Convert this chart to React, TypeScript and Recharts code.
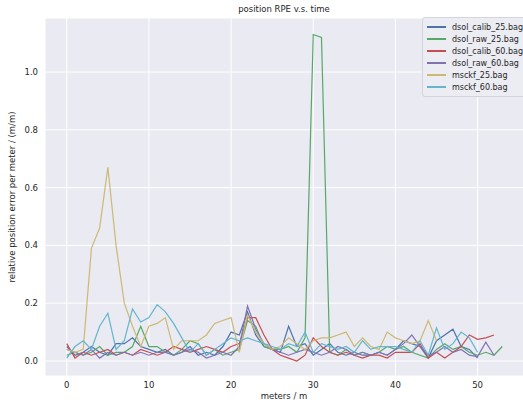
import { LineChart, Line, XAxis, YAxis, CartesianGrid } from 'recharts';

const seriesNames = [
  'dsol_calib_25.bag',
  'dsol_raw_25.bag',
  'dsol_calib_60.bag',
  'dsol_raw_60.bag',
  'msckf_25.bag',
  'msckf_60.bag',
];

const colors = ['#4C72B0', '#55A868', '#C44E52', '#8172B2', '#CCB974', '#64B5CD'];

const dsolCalib25 = [0.05, 0.02, 0.03, 0.05, 0.03, 0.02, 0.06, 0.06, 0.08, 0.05, 0.04, 0.03, 0.04, 0.02, 0.03, 0.05, 0.02, 0.03, 0.02, 0.05, 0.1, 0.09, 0.17, 0.09, 0.05, 0.04, 0.03, 0.12, 0.05, 0.06, 0.02, 0.04, 0.06, 0.03, 0.02, 0.03, 0.02, 0.02, 0.03, 0.02, 0.04, 0.07, 0.06, 0.05, 0.01, 0.07, 0.09, 0.11, 0.05, 0.04, 0.01];
const dsolRaw25 = [0.02, 0.03, 0.02, 0.03, 0.05, 0.02, 0.03, 0.03, 0.05, 0.12, 0.05, 0.05, 0.03, 0.02, 0.04, 0.07, 0.06, 0.02, 0.04, 0.02, 0.03, 0.04, 0.14, 0.12, 0.05, 0.04, 0.04, 0.05, 0.03, 0.08, 1.13, 1.12, 0.03, 0.02, 0.04, 0.02, 0.03, 0.02, 0.03, 0.05, 0.04, 0.05, 0.03, 0.02, 0.01, 0.04, 0.06, 0.04, 0.05, 0.03, 0.02, 0.03, 0.02, 0.05];
const dsolCalib60 = [0.06, 0.01, 0.03, 0.02, 0.03, 0.04, 0.02, 0.03, 0.02, 0.04, 0.03, 0.02, 0.03, 0.05, 0.04, 0.03, 0.04, 0.05, 0.04, 0.03, 0.05, 0.06, 0.15, 0.15, 0.09, 0.04, 0.02, 0.01, 0.0, 0.02, 0.08, 0.05, 0.03, 0.02, 0.03, 0.02, 0.01, 0.02, 0.02, 0.01, 0.03, 0.03, 0.03, 0.06, 0.01, 0.03, 0.01, 0.03, 0.05, 0.09, 0.075, 0.08, 0.09];
const dsolRaw60 = [0.04, 0.03, 0.02, 0.04, 0.01, 0.03, 0.02, 0.03, 0.02, 0.03, 0.02, 0.03, 0.03, 0.02, 0.03, 0.04, 0.03, 0.01, 0.02, 0.03, 0.02, 0.05, 0.19, 0.11, 0.06, 0.04, 0.03, 0.02, 0.03, 0.04, 0.03, 0.02, 0.03, 0.05, 0.04, 0.02, 0.03, 0.02, 0.03, 0.02, 0.04, 0.06, 0.09, 0.05, 0.02, 0.03, 0.05, 0.03, 0.04, 0.02, 0.015, 0.065, 0.02];
const msckf25 = [0.04, 0.03, 0.04, 0.39, 0.46, 0.67, 0.4, 0.2, 0.12, 0.05, 0.12, 0.13, 0.15, 0.04, 0.07, 0.07, 0.07, 0.09, 0.13, 0.14, 0.15, 0.03, 0.16, 0.1, 0.06, 0.04, 0.05, 0.08, 0.06, 0.04, 0.07, 0.08, 0.08, 0.09, 0.1, 0.05, 0.08, 0.05, 0.04, 0.1, 0.08, 0.07, 0.06, 0.07, 0.14, 0.07];
const msckf60 = [0.01, 0.05, 0.07, 0.04, 0.12, 0.165, 0.04, 0.07, 0.18, 0.135, 0.15, 0.195, 0.17, 0.13, 0.08, 0.03, 0.06, 0.02, 0.04, 0.06, 0.08, 0.07, 0.08, 0.07, 0.06, 0.05, 0.04, 0.06, 0.05, 0.1, 0.03, 0.06, 0.05, 0.04, 0.05, 0.03, 0.07, 0.04, 0.05, 0.05, 0.05, 0.04, 0.03, 0.07, 0.02, 0.115, 0.04, 0.06, 0.1, 0.08, 0.03];

const allSeries = [dsolCalib25, dsolRaw25, dsolCalib60, dsolRaw60, msckf25, msckf60];

const xTicks = [0, 10, 20, 30, 40, 50];
const yTicks = [0, 0.2, 0.4, 0.6, 0.8, 1.0];

const maxLen = Math.max(...allSeries.map((s) => s.length));
const chartData = Array.from({ length: maxLen }, (_, i) => {
  const row: Record<string, number> = { t: i };
  allSeries.forEach((s, k) => {
    if (i < s.length) row[seriesNames[k]] = s[i];
  });
  return row;
});

const font = '"DejaVu Sans", sans-serif';
const tickStyle = { fill: '#262626', fontSize: 8.5, fontFamily: font };

function LegendBox() {
  return (
    <div
      style={{
        position: 'absolute',
        top: 17,
        left: 422,
        background: 'rgba(236,236,243,0.9)',
        border: '1px solid #d4d4dc',
        borderRadius: 3,
        padding: '3px 4px 3px 4px',
        fontFamily: font,
        fontSize: 8,
        color: '#262626',
      }}
    >
      {seriesNames.map((name, i) => (
        <div key={name} style={{ display: 'flex', alignItems: 'center', height: 12 }}>
          <span style={{ width: 19, height: 1.2, background: colors[i], marginRight: 6, display: 'inline-block' }} />
          <span>{name}</span>
        </div>
      ))}
    </div>
  );
}

export default function App() {
  return (
    <div style={{ position: 'absolute', left: 0, top: 0, width: 523, height: 406, overflow: 'hidden', background: '#fff' }}>
      <LineChart width={526} height={406} data={chartData} margin={{ top: 18, right: 2, left: 0, bottom: 0 }}>
        <CartesianGrid stroke="#ffffff" strokeWidth={1} fill="#EAEAF2" />
        <XAxis
          dataKey="t"
          type="number"
          domain={[-2.65, 55.65]}
          ticks={xTicks}
          allowDataOverflow
          height={30}
          tick={tickStyle}
          tickLine={false}
          axisLine={false}
          tickSize={0}
          tickMargin={6}
        />
        <YAxis
          type="number"
          domain={[-0.052, 1.187]}
          ticks={yTicks}
          allowDataOverflow
          width={45}
          tick={tickStyle}
          tickFormatter={(v: number) => v.toFixed(1)}
          tickLine={false}
          axisLine={false}
          tickSize={0}
          tickMargin={7}
        />
        {seriesNames.map((name, i) => (
          <Line
            key={name}
            type="linear"
            dataKey={name}
            stroke={colors[i]}
            strokeWidth={1.2}
            dot={false}
            isAnimationActive={false}
          />
        ))}
      </LineChart>
      <LegendBox />
      <div style={{ position: 'absolute', top: 4, left: 184, width: 200, textAlign: 'center', fontFamily: font, fontSize: 8.5, color: '#262626' }}>
        position RPE v.s. time
      </div>
      <div style={{ position: 'absolute', top: 391, left: 184, width: 200, textAlign: 'center', fontFamily: font, fontSize: 8.5, color: '#262626' }}>
        meters / m
      </div>
      <div
        style={{
          position: 'absolute',
          left: 12,
          top: 197,
          transform: 'translate(-50%, -50%) rotate(-90deg)',
          whiteSpace: 'nowrap',
          fontFamily: font,
          fontSize: 8.5,
          color: '#262626',
        }}
      >
        relative position error per meter / (m/m)
      </div>
    </div>
  );
}
